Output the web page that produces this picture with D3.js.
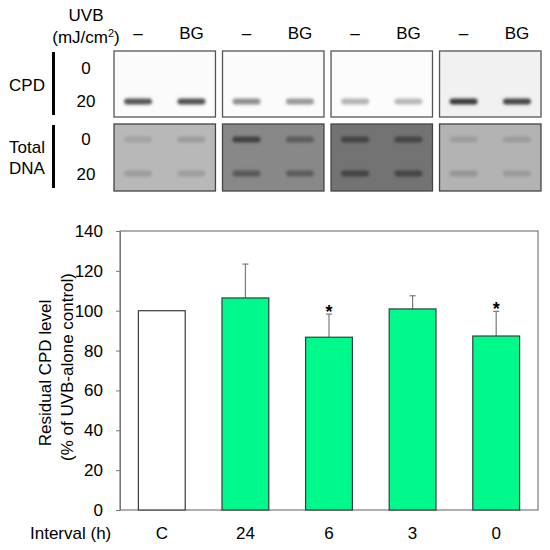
<!DOCTYPE html>
<html>
<head>
<meta charset="utf-8">
<script src="https://cdn.jsdelivr.net/npm/d3@7"></script>
<style>
  body { margin: 0; background: #fff; }
  text { font-family: "Liberation Sans", Arial, sans-serif; fill: #000; }
</style>
</head>
<body>
<div id="chart"></div>
<script>
// bar chart data
const groups = ["C", "24", "6", "3", "0"];
const values = [100, 106.4, 86.7, 100.9, 87.3];
const errors = [0, 17.0, 11.6, 6.6, 12.4];
const significant = [false, false, true, false, true];
const barColors = ["#ffffff", "#00f98b", "#00f98b", "#00f98b", "#00f98b"];
const yTicks = [0, 20, 40, 60, 80, 100, 120, 140];

// blot data (4 panels, lanes "-" and "BG", doses 0 / 20)
const panels = ["p1", "p2", "p3", "p4"];
const lanes = ["–", "BG"];
const doses = ["0", "20"];
const cpdBackground = ["#fbfbfb", "#fbfbfb", "#fcfcfc", "#f1f1f1"];
const dnaBackground = ["#b8b8b8", "#888888", "#737373", "#b3b3b3"];
// band colour per panel: [lane][dose], null = no band
const cpdBands = [
  [[null, "#555555"], [null, "#505050"]],
  [[null, "#8f8f8f"], [null, "#989898"]],
  [[null, "#b4b4b4"], [null, "#b8b8b8"]],
  [[null, "#3a3a3a"], [null, "#444444"]]
];
const dnaBands = [
  [["#a2a2a2", "#9c9c9c"], ["#9c9c9c", "#9e9e9e"]],
  [["#404040", "#575757"], ["#5c5c5c", "#5c5c5c"]],
  [["#424242", "#424242"], ["#444444", "#444444"]],
  [["#9c9c9c", "#959595"], ["#9c9c9c", "#999999"]]
];

const svg = d3.select("#chart")
  .append("svg")
  .attr("width", 550)
  .attr("height", 550);

svg.append("defs")
  .append("filter")
  .attr("id", "blur")
  .attr("x", "-30%").attr("y", "-150%")
  .attr("width", "160%").attr("height", "400%")
  .append("feGaussianBlur")
  .attr("stdDeviation", 1.4);

// ---------- blot panels ----------
const px = d3.scaleBand().domain(panels).range([114, 541]).paddingInner(0.065);
const cpdTop = 51, cpdBottom = 117, dnaTop = 124, dnaBottom = 191;
const cpdRow = d3.scalePoint().domain(doses).range([cpdTop, cpdBottom]).padding(0.5);
const dnaRow = d3.scalePoint().domain(doses).range([dnaTop, dnaBottom - 2]).padding(0.45);

panels.forEach(function (p, i) {
  const lx = d3.scalePoint().domain(lanes).range([px(p), px(p) + px.bandwidth()]).padding(0.45);
  const g = svg.append("g");

  // lane labels
  g.selectAll("text.lane")
    .data(lanes)
    .join("text")
    .attr("x", d => lx(d))
    .attr("y", 39)
    .attr("text-anchor", "middle")
    .style("font-size", "17px")
    .text(d => d);

  // CPD panel
  g.append("rect")
    .attr("x", px(p)).attr("y", cpdTop)
    .attr("width", px.bandwidth()).attr("height", cpdBottom - cpdTop)
    .attr("fill", cpdBackground[i])
    .attr("stroke", "#555").attr("stroke-width", 1.3);
  lanes.forEach(function (l, li) {
    doses.forEach(function (d, di) {
      const c = cpdBands[i][li][di];
      if (!c) return;
      g.append("rect")
        .attr("x", lx(l) - 14).attr("y", cpdRow(d) - 2)
        .attr("width", 28).attr("height", 6).attr("rx", 3)
        .attr("fill", c).attr("filter", "url(#blur)");
    });
  });

  // total DNA panel
  g.append("rect")
    .attr("x", px(p)).attr("y", dnaTop)
    .attr("width", px.bandwidth()).attr("height", dnaBottom - dnaTop)
    .attr("fill", dnaBackground[i])
    .attr("stroke", "#444").attr("stroke-width", 1.3);
  lanes.forEach(function (l, li) {
    doses.forEach(function (d, di) {
      const c = dnaBands[i][li][di];
      if (!c) return;
      g.append("rect")
        .attr("x", lx(l) - 14).attr("y", dnaRow(d) - 3)
        .attr("width", 28).attr("height", 6).attr("rx", 3)
        .attr("fill", c).attr("filter", "url(#blur)");
    });
  });
});

// blot row labels
svg.append("text").attr("x", 86).attr("y", 21).attr("text-anchor", "middle").style("font-size", "17px").text("UVB");
const unit = svg.append("text").attr("x", 86).attr("y", 43).attr("text-anchor", "middle").style("font-size", "17px");
unit.append("tspan").text("(mJ/cm");
unit.append("tspan").attr("dy", -6).style("font-size", "11px").text("2");
unit.append("tspan").attr("dy", 6).text(")");

svg.append("rect").attr("x", 52).attr("y", 52).attr("width", 3).attr("height", 63).attr("fill", "#000");
svg.append("rect").attr("x", 52).attr("y", 125).attr("width", 3).attr("height", 63).attr("fill", "#000");
svg.append("text").attr("x", 27).attr("y", 91).attr("text-anchor", "middle").style("font-size", "17px").text("CPD");
svg.append("text").attr("x", 27).attr("y", 153).attr("text-anchor", "middle").style("font-size", "17px").text("Total");
svg.append("text").attr("x", 27).attr("y", 174).attr("text-anchor", "middle").style("font-size", "17px").text("DNA");
doses.forEach(function (d) {
  svg.append("text").attr("x", 86).attr("y", cpdRow(d) + 6).attr("text-anchor", "middle").style("font-size", "17px").text(d);
  svg.append("text").attr("x", 86).attr("y", dnaRow(d) + 6).attr("text-anchor", "middle").style("font-size", "17px").text(d);
});

// ---------- bar chart ----------
const plotLeft = 120, plotRight = 538, plotTop = 231, plotBottom = 510;
const x = d3.scaleBand().domain(groups).range([plotLeft, plotRight]).paddingInner(0.44).paddingOuter(0.22);
const y = d3.scaleLinear().domain([0, 140]).range([plotBottom, plotTop]);

// frame
svg.append("rect")
  .attr("x", plotLeft).attr("y", plotTop)
  .attr("width", plotRight - plotLeft).attr("height", plotBottom - plotTop)
  .attr("fill", "none").attr("stroke", "#7a7a7a").attr("stroke-width", 1.2);

// y axis
const yAxis = svg.append("g")
  .attr("transform", `translate(${plotLeft},0)`)
  .call(d3.axisLeft(y).tickValues(yTicks).tickSize(4).tickPadding(13));
yAxis.select(".domain").attr("stroke", "#7a7a7a");
yAxis.selectAll(".tick line").attr("stroke", "#7a7a7a");
yAxis.selectAll(".tick text")
  .style("font-size", "17px")
  .style("font-family", "'Liberation Sans', Arial, sans-serif");

// error bars
const data = groups.map((g, i) => ({ g: g, v: values[i], e: errors[i], s: significant[i], c: barColors[i] }));
const eb = svg.append("g");
eb.selectAll("line.err")
  .data(data.filter(d => d.e > 0))
  .join("line")
  .attr("class", "err")
  .attr("x1", d => x(d.g) + x.bandwidth() / 2)
  .attr("x2", d => x(d.g) + x.bandwidth() / 2)
  .attr("y1", d => y(d.v))
  .attr("y2", d => y(d.v + d.e))
  .attr("stroke", "#7a7a7a").attr("stroke-width", 1.2);
eb.selectAll("line.cap")
  .data(data.filter(d => d.e > 0))
  .join("line")
  .attr("class", "cap")
  .attr("x1", d => x(d.g) + x.bandwidth() / 2 - 3)
  .attr("x2", d => x(d.g) + x.bandwidth() / 2 + 3)
  .attr("y1", d => y(d.v + d.e))
  .attr("y2", d => y(d.v + d.e))
  .attr("stroke", "#7a7a7a").attr("stroke-width", 1.2);

// bars
svg.append("g")
  .selectAll("rect")
  .data(data)
  .join("rect")
  .attr("x", d => x(d.g))
  .attr("y", d => y(d.v))
  .attr("width", x.bandwidth())
  .attr("height", d => y(0) - y(d.v))
  .attr("fill", d => d.c)
  .attr("stroke", "#3c3c3c").attr("stroke-width", 1.2);

// significance
svg.append("g")
  .selectAll("text")
  .data(data.filter(d => d.s))
  .join("text")
  .attr("x", d => x(d.g) + x.bandwidth() / 2)
  .attr("y", d => y(d.v + d.e) + 4)
  .attr("text-anchor", "middle")
  .style("font-size", "18px")
  .style("font-weight", "bold")
  .text("*");

// x labels
svg.append("g")
  .selectAll("text")
  .data(groups)
  .join("text")
  .attr("x", d => x(d) + x.bandwidth() / 2)
  .attr("y", 539)
  .attr("text-anchor", "middle")
  .style("font-size", "17px")
  .text(d => d);
svg.append("text").attr("x", 30).attr("y", 539).style("font-size", "17px").text("Interval (h)");

// y title
svg.append("text")
  .attr("transform", "translate(51,373) rotate(-90)")
  .attr("text-anchor", "middle")
  .style("font-size", "17px")
  .text("Residual CPD level");
svg.append("text")
  .attr("transform", "translate(73,367) rotate(-90)")
  .attr("text-anchor", "middle")
  .style("font-size", "17px")
  .text("(% of UVB-alone control)");
</script>
</body>
</html>
